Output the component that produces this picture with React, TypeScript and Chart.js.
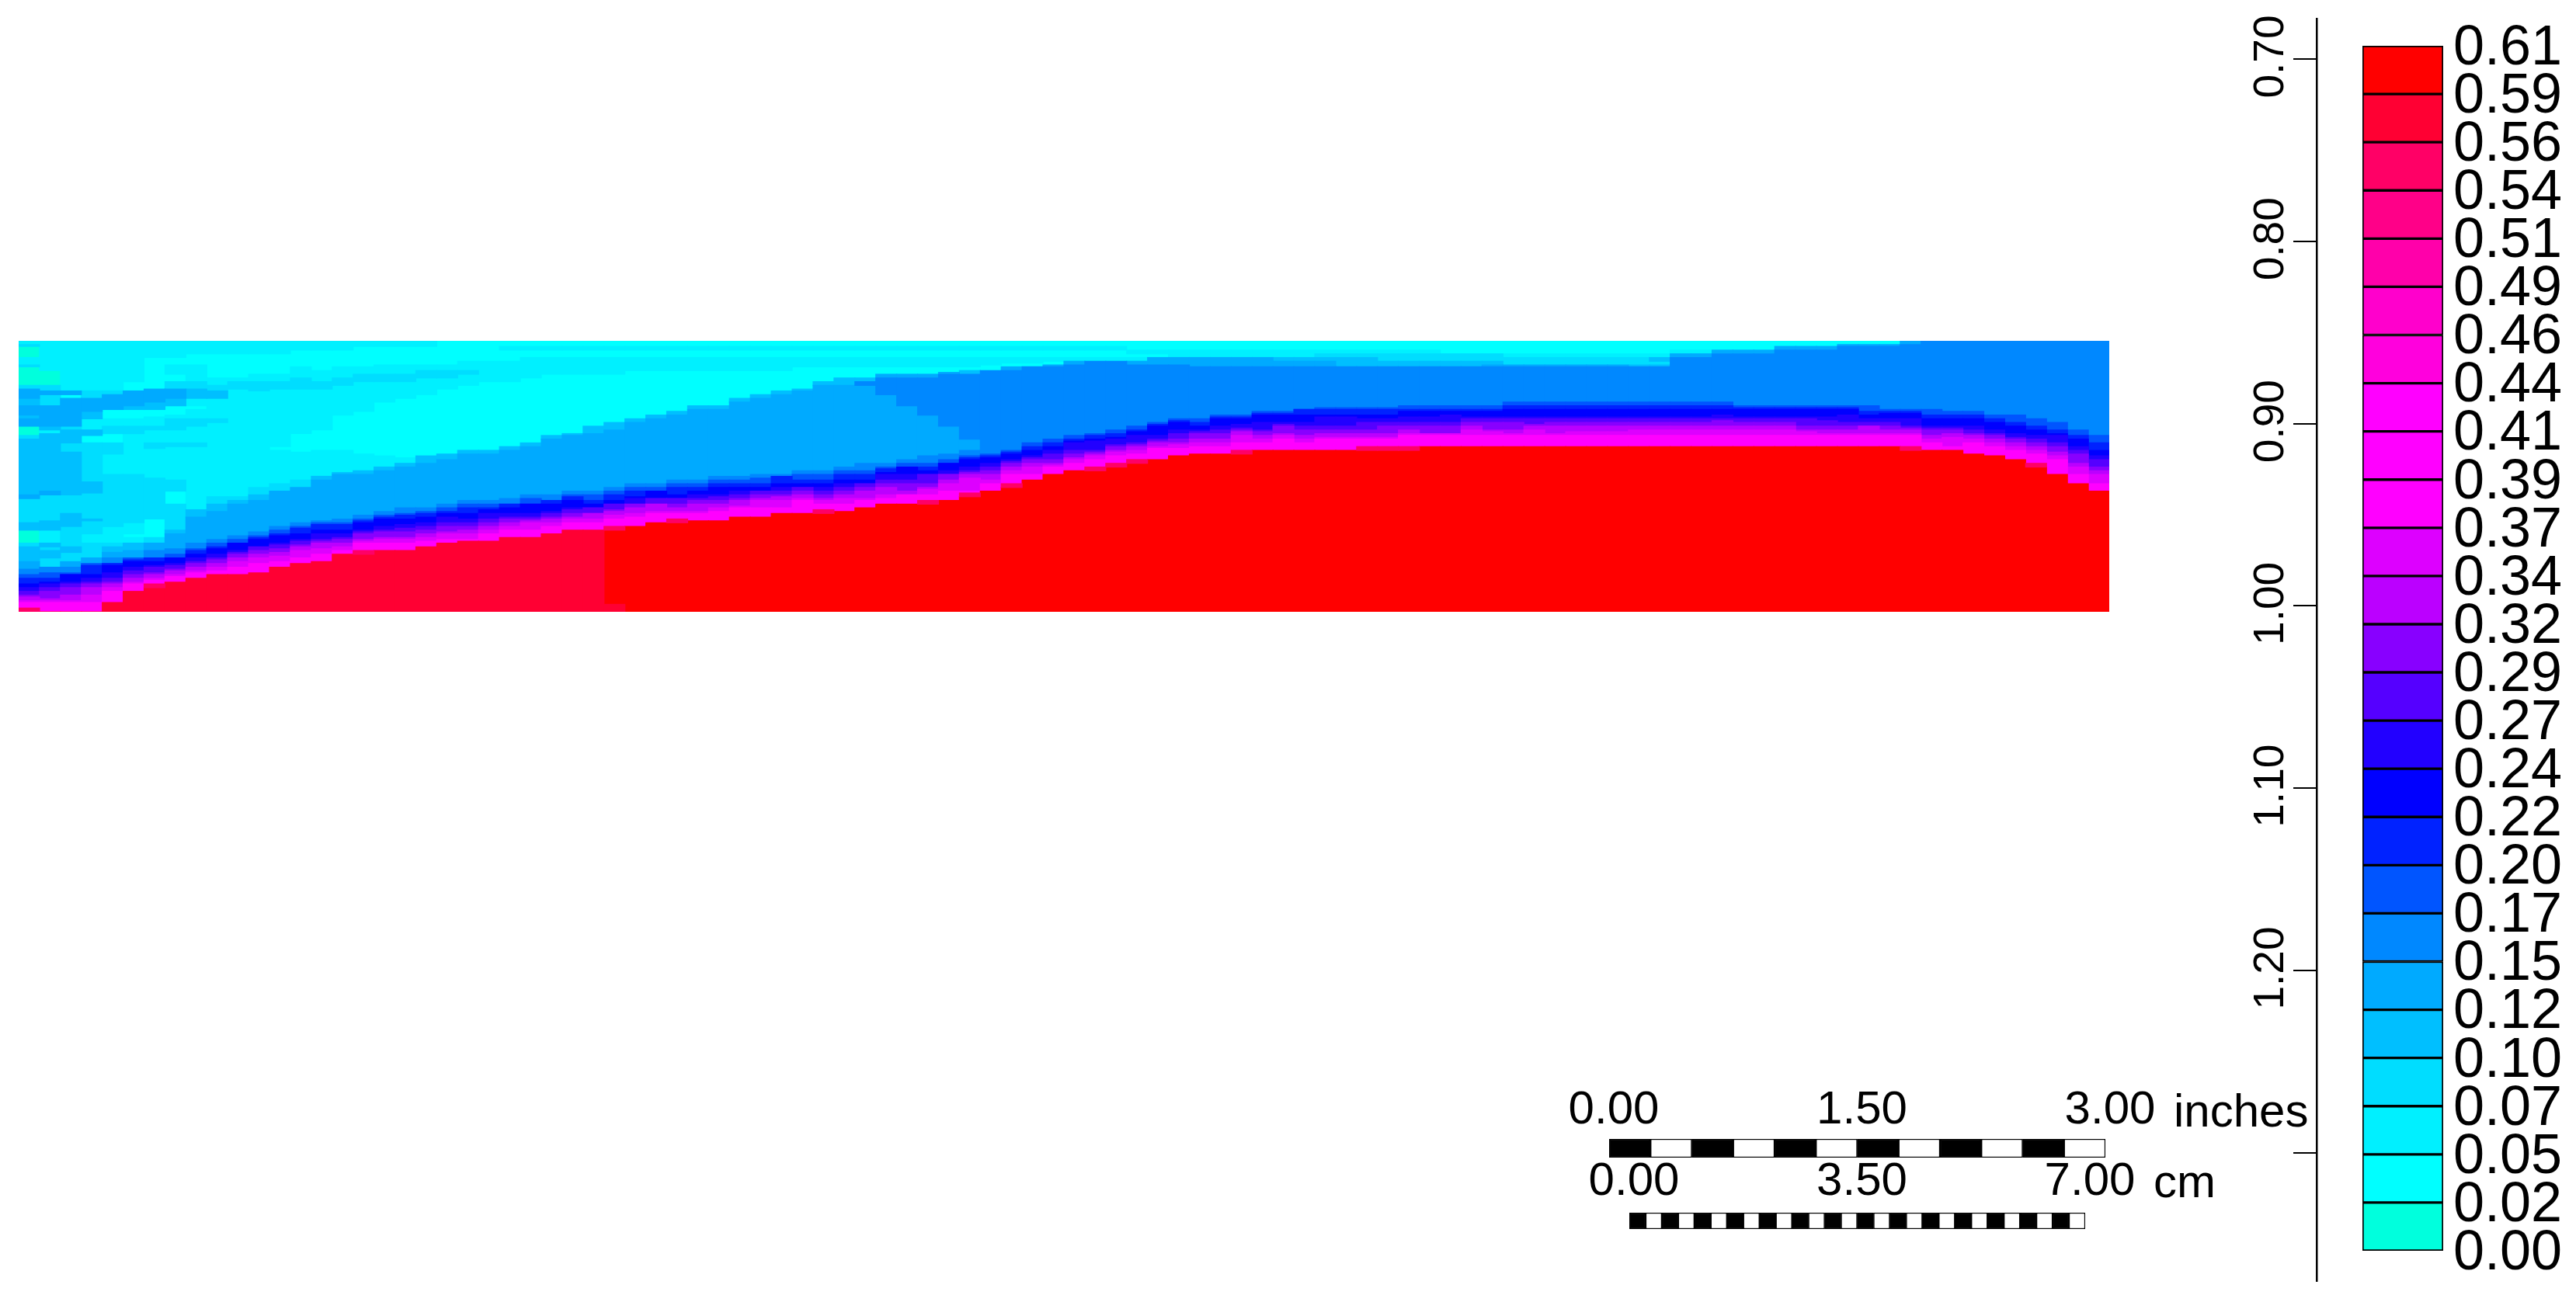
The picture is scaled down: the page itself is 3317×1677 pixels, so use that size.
import React, { useEffect, useRef } from "react";
import { Chart, registerables } from "chart.js";

Chart.register(...registerables);
Chart.defaults.font.family = '"Liberation Sans", Arial, sans-serif';
Chart.defaults.color = "#000";

// ---------- heat map data: one entry per grid column ----------
const rowCount = 146;
const columnLabels = Array.from({ length: 100 }, (_, i) => String(i));

const upperColors: Record<string, string> = {
  g: "#00ffdd", c: "#00ffff", f: "#00f0ff", d: "#00ddff", b: "#00bfff", a: "#00aaff", h: "#0088ff",
};

// "start+colour" runs, reading each column downward from the top of the grid
const upperRuns = [
  "0f 2d 3g 9f 13d 14g 24d 26a 31b 35a 40b 42a 46g 51d 53b 83a 85d 98b 102g 109d 111b 119a 123h",
  "0f 16g 24d 27a 29d 35a 46b 48f 50b 81a 83d 97b 102f 109b 111d 113b 117d 122h",
  "0f 27a 29c 31a 46d 48b 55d 60b 83d 93b 100d 111b 114d 119a 122h",
  "0f 27d 31a 38b 42f 48b 51c 55d 76b 82d 96b 97d 104f 109d 117a",
  "0f 27d 29a 37c 42f 46d 50c 55d 61f 72d 100f 109d 111b 114a 117h",
  "0f 22c 27a 35b 37c 42f 46d 50f 72d 98f 104c 106f 109b 113a 117h",
  "0f 9c 26a 33b 37c 41f 46d 48f 55d 58f 74d 96c 106d 109a 113h",
  "0f 9c 13f 18c 22d 26a 31b 35c 40f 42d 48f 55d 57f 75d 81c 88d 102b 104a 112h",
  "0f 7c 13f 22d 26b 31f 35c 37f 42d 46f 55d 57f 91b 95a 109h",
  "0f 7c 20f 24d 27b 31f 42d 44f 84d 88b 92a 107h",
  "0f 7c 20f 22d 26f 84d 86b 88a 105h",
  "0f 7c 18f 22d 27f 79d 83b 86a 103h",
  "0f 7c 18f 22d 26f 57c 59f 77d 81a 100h",
  "0f 5c 14f 20d 26f 50c 60f 75d 79a 98h",
  "0f 5c 16f 22d 26f 48c 59f 73b 75a 97h",
  "0f 5c 14f 20d 24f 40c 59f 71b 72a 96h",
  "0f 3c 14f 18d 22f 38c 61f 70b 72a 94h",
  "0f 3c 13f 18d 22f 33c 62f 68b 70a 92h",
  "0f 3c 13f 18d 22f 31c 63f 66b 68a 90h",
  "0f 3c 13f 16d 20f 29c 62b 66a 90h",
  "0c 13f 16d 20f 26c 61b 64a 88h",
  "0c 11f 16d 18f 24c 59b 61a 86h",
  "0c 11f 22c 59b 61a 86h",
  "0c 3f 5c 11f 22c 57b 59a 85h",
  "0c 3f 5c 9f 20c 55b 57a 83h",
  "0c 3f 5c 9f 18c 51b 53a 83h",
  "0c 3f 5c 9f 18c 50b 51a 81h",
  "0c 3f 5c 9f 18c 46b 50a 81h",
  "0c 3f 5c 9f 18c 44b 48a 79h",
  "0c 3f 5c 9f 16c 42b 44a 77h",
  "0c 3f 5c 9f 16c 40b 42a 77h",
  "0c 3f 5c 9f 16c 38b 40a 75h",
  "0c 3f 5c 9f 16c 35b 37a 75h",
  "0c 3f 5c 9f 16c 35b 37a 73h",
  "0c 3f 5c 9f 16c 31b 33a 73h",
  "0c 3f 5c 9f 16c 29b 31a 72h",
  "0c 3f 5c 9f 16c 27b 29a 72h",
  "0c 3f 5c 9f 14c 26b 27a 70h",
  "0c 3f 5c 9f 14c 22b 24a 70h",
  "0c 3f 5c 9f 14c 20b 24a 68h",
  "0c 3f 5c 9f 14c 20b 22h 24a 66h",
  "0c 3f 5c 9f 14c 18a 20h 29a 66h",
  "0c 3f 5c 9f 14c 18a 20h 35a 64h",
  "0c 3f 5c 9f 14c 18a 20h 40a 62h",
  "0c 3f 5c 9f 14c 17a 18h 46a 61h",
  "0c 3f 5c 9f 14c 16b 18h 53a 59h",
  "0c 3f 5c 9f 13c 16h",
  "0c 3f 5c 9f 12c 14a 16h",
  "0c 3f 5c 9f 12c 14h",
  "0c 3f 5c 9f 11c 13a 14h",
  "0c 3f 5c 9f 11a 13h",
  "0c 3f 5c 9f 11h",
  "0c 3f 5c 9f 11h",
  "0c 5f 7c 9f 11a 13h",
  "0c 5f 7c 9a 13h",
  "0c 5f 9a 13h",
  "0c 5f 9a 14h",
  "0c 5f 9a 14h",
  "0c 5f 9a 14h",
  "0c 5f 9a 14h",
  "0c 5f 9b 11a 14h",
  "0c 5f 9b 11a 14h",
  "0c 5f 7d 9b 11a 14h",
  "0c 5f 7d 9b 14h",
  "0c 5f 7d 9b 14h",
  "0c 5f 7d 11b 14h",
  "0c 5f 7d 11b 14h",
  "0c 5f 7d 11b 14h",
  "0c 7d 11b 14h",
  "0c 7d 11b 14h",
  "0c 7d 11b 13a 14h",
  "0c 7f 9d 13a 14h",
  "0c 7f 9d 13a 14h",
  "0c 7f 9d 13a 14h",
  "0c 7f 9d 13a 14h",
  "0c 7f 9d 13a 14h",
  "0c 7f 9d 13a 14h",
  "0c 7f 9d 13b 14h",
  "0c 7f 9b 11d 13b 14h",
  "0c 5f 7a 9h",
  "0c 5f 7a 9h",
  "0c 5a 7h",
  "0c 5a 7h",
  "0c 5a 7h",
  "0c 3a 5h",
  "0c 3a 5h",
  "0c 3a 5h",
  "0c 2a 3h",
  "0c 2a 3h",
  "0c 2a 3h",
  "0a 2h",
  "0h", "0h", "0h", "0h", "0h", "0h", "0h", "0h", "0h",
];

const bandColors = ["#0055ff", "#0022ff", "#0000ff", "#2200ff", "#5500ff", "#8800ff", "#bb00ff", "#dd00ff", "#ff00ff"];

// per column: first row of each colour of the front, the last entry is the first row of the red zone
const bandTops = [
  [126,128,131,133,135,137,138,140,141,146],
  [125,128,130,131,133,135,139,140,141,146],
  [125,126,126,130,131,133,137,140,141,146],
  [120,121,126,128,130,131,133,137,141,146],
  [120,120,121,125,128,130,131,133,135,141],
  [117,118,119,122,124,126,128,130,131,135],
  [117,117,119,121,122,125,126,128,129,133],
  [115,117,117,120,121,123,124,126,127,130],
  [112,113,115,117,119,120,122,124,125,128],
  [109,111,112,115,117,118,120,122,124,126],
  [107,109,109,113,114,115,117,119,122,126],
  [105,106,107,111,111,113,115,117,120,125],
  [102,104,105,109,110,112,114,116,119,122],
  [100,101,104,107,108,110,111,113,117,120],
  [98,99,102,104,107,108,109,112,115,119],
  [98,99,102,104,106,107,109,111,113,115],
  [96,97,98,102,103,104,107,108,109,115],
  [94,95,96,100,102,103,106,107,109,113],
  [93,94,96,99,101,103,106,107,109,113],
  [92,93,95,98,100,102,104,106,108,111],
  [90,92,93,95,98,100,103,104,107,109],
  [88,90,93,96,98,100,102,104,107,108],
  [88,90,91,93,96,98,100,102,104,108],
  [88,88,90,93,95,96,98,100,102,106],
  [85,88,88,93,95,96,97,98,102,106],
  [86,86,88,92,93,95,96,98,100,104],
  [83,84,86,90,91,93,95,96,98,102],
  [83,86,88,90,90,93,93,96,98,102],
  [81,83,86,88,88,91,92,94,96,102],
  [79,81,84,85,88,88,90,93,95,100],
  [79,81,81,85,85,88,88,92,93,98],
  [77,79,83,85,85,88,90,92,93,98],
  [77,79,81,83,85,86,88,92,93,97],
  [75,77,79,83,84,86,88,90,92,97],
  [75,77,79,81,83,85,86,89,90,95],
  [74,77,79,81,81,83,85,86,90,95],
  [73,73,77,79,81,83,84,86,90,93],
  [72,75,77,79,79,81,83,85,86,93],
  [72,75,77,79,81,83,85,86,88,93],
  [70,72,75,77,79,81,83,85,88,92],
  [70,72,75,77,77,79,81,85,86,90],
  [68,69,71,72,75,77,79,83,85,88],
  [66,68,68,72,75,77,81,83,83,88],
  [66,68,70,72,72,77,79,80,83,88],
  [64,66,66,70,72,72,75,77,81,86],
  [62,63,64,68,70,71,72,74,81,84],
  [61,62,63,66,68,70,72,75,77,81],
  [59,60,61,64,65,66,68,70,72,79],
  [55,57,59,62,63,64,66,68,72,75],
  [53,55,57,59,61,64,66,67,68,72],
  [51,53,54,55,59,61,63,64,66,70],
  [50,51,53,54,59,60,61,62,64,70],
  [48,50,52,53,56,57,59,60,62,68],
  [46,48,49,51,55,56,57,59,61,66],
  [44,45,46,51,53,54,55,57,58,64],
  [42,43,44,48,50,53,55,56,58,62],
  [42,44,46,48,49,50,53,55,57,61],
  [40,41,42,46,48,50,53,55,57,61],
  [40,41,42,45,47,48,49,51,55,61],
  [38,39,40,44,48,49,51,53,55,59],
  [38,39,40,44,45,46,50,51,53,59],
  [37,37,40,44,46,48,51,53,55,59],
  [36,37,40,41,46,48,50,52,53,59],
  [36,37,40,41,46,48,50,52,53,59],
  [36,37,40,42,44,48,50,52,53,59],
  [36,37,40,42,44,46,50,52,53,59],
  [35,37,38,41,44,46,48,50,51,59],
  [35,37,38,41,44,46,50,50,51,57],
  [35,37,38,40,44,46,50,50,51,57],
  [35,37,38,41,42,44,46,48,51,57],
  [35,37,38,41,42,44,48,49,51,57],
  [33,35,37,41,42,44,48,50,51,57],
  [33,35,37,41,42,45,46,48,51,57],
  [33,35,37,41,42,44,46,50,51,57],
  [33,35,37,41,42,44,46,49,51,57],
  [33,35,37,41,42,44,46,49,51,57],
  [33,35,37,41,42,44,46,49,51,57],
  [33,35,37,41,42,44,46,48,51,57],
  [33,35,37,41,42,44,46,48,51,57],
  [33,35,37,41,42,44,46,48,51,57],
  [33,35,37,41,42,44,46,48,51,57],
  [33,35,37,40,42,43,46,48,51,57],
  [35,36,37,41,42,44,46,48,51,57],
  [35,36,37,41,42,44,46,48,51,57],
  [35,36,37,41,42,44,46,48,51,57],
  [35,36,37,41,42,46,48,49,51,57],
  [35,36,37,41,43,46,48,50,51,57],
  [35,36,37,40,44,46,48,50,51,57],
  [35,38,40,42,44,46,46,50,51,57],
  [37,38,39,42,44,46,48,50,51,57],
  [37,38,39,42,46,47,48,50,51,59],
  [37,40,42,46,47,48,51,53,55,59],
  [38,40,42,46,47,48,50,52,57,59],
  [38,40,42,46,48,50,51,53,55,61],
  [40,42,44,48,50,51,53,55,57,62],
  [40,44,46,50,52,53,55,57,59,64],
  [42,46,48,51,53,55,57,59,61,68],
  [44,48,50,51,55,57,60,62,64,72],
  [48,51,53,57,59,61,66,68,72,77],
  [51,55,59,62,64,68,70,72,77,81],
];

const lastSlightlyPaleRedColumn = 27;
const paleRedPatch = [[28, 142, 146]];
// [column, first row, end row] of the thin pink cells on top of the red zone
const pinkCells = [
  [0,144,146],[6,131,133],[16,113,115],[28,100,102],[31,96,98],[38,91,93],[43,86,88],[45,82,84],[47,77,79],
  [51,68,70],[52,66,68],[53,64,66],[58,59,61],[64,57,59],[65,57,59],[66,57,59],[90,57,59],[96,66,68],
];

// ---------- depth axis ----------
const depthMin = 0.67785;
const depthMax = 1.37036;
const depthTicks = [0.7, 0.8, 0.9, 1.0, 1.1, 1.2, 1.3];
const depthLabels = ["0.70", "0.80", "0.90", "1.00", "1.10", "1.20", ""];

// ---------- colour bar, listed from the top ----------
const legendLabels = ["0.61","0.59","0.56","0.54","0.51","0.49","0.46","0.44","0.41","0.39","0.37","0.34","0.32","0.29","0.27","0.24","0.22","0.20","0.17","0.15","0.12","0.10","0.07","0.05","0.02","0.00"];
const legendColors = ["#ff0000","#ff0033","#ff0066","#ff0088","#ff00aa","#ff00cc","#ff00dd","#ff00ff","#ff00ff","#ff00ff","#dd00ff","#bb00ff","#8800ff","#5500ff","#2200ff","#0000ff","#0022ff","#0055ff","#0088ff","#00aaff","#00bfff","#00ddff","#00f0ff","#00ffff","#00ffdd"];

// ---------- scale bars ----------
const inchEdges = [0,0.25,0.5,0.75,1,1.25,1.5,1.75,2,2.25,2.5,2.75,3];
const inchTicks = [0, 1.5, 3];
const inchLabels = ["0.00", "1.50", "3.00"];
const cmEdges = [0,0.25,0.5,0.75,1,1.25,1.5,1.75,2,2.25,2.5,2.75,3,3.25,3.5,3.75,4,4.25,4.5,4.75,5,5.25,5.5,5.75,6,6.25,6.5,6.75,7];
const cmTicks = [0, 3.5, 7];
const cmLabels = ["0.00", "3.50", "7.00"];

function heatmapDatasets() {
  const paint: any[] = [];
  const byLetter: Record<string, any[]> = {};
  upperRuns.forEach((line, col) => {
    const runs = line.split(" ");
    runs.forEach((tok, i) => {
      const top = parseInt(tok, 10);
      const bot = i + 1 < runs.length ? parseInt(runs[i + 1], 10) : rowCount;
      const letter = tok.slice(-1);
      (byLetter[letter] = byLetter[letter] || []).push({ x: String(col), y: [top, bot] });
    });
  });
  Object.keys(upperColors).forEach((l) => paint.push({ label: l, backgroundColor: upperColors[l], data: byLetter[l] || [] }));
  bandColors.forEach((color, b) => {
    paint.push({ label: color, backgroundColor: color, data: bandTops.map((t, col) => ({ x: String(col), y: [t[b], rowCount] })) });
  });
  const red = bandTops.map((t, col) => ({ col, top: t[t.length - 1] }));
  paint.push({ label: "red", backgroundColor: "#ff0000", data: red.filter((r) => r.col > lastSlightlyPaleRedColumn).map((r) => ({ x: String(r.col), y: [r.top, rowCount] })) });
  paint.push({
    label: "pale red", backgroundColor: "#ff0033",
    data: red.filter((r) => r.col <= lastSlightlyPaleRedColumn).map((r) => ({ x: String(r.col), y: [r.top, rowCount] }))
      .concat(paleRedPatch.map((p) => ({ x: String(p[0]), y: [p[1], p[2]] }))),
  });
  paint.push({ label: "pink", backgroundColor: "#ff0066", data: pinkCells.map((p) => ({ x: String(p[0]), y: [p[1], p[2]] })) });
  return paint.reverse();
}

const base = {
  animation: false, responsive: false, maintainAspectRatio: false, devicePixelRatio: 1, events: [] as string[],
  plugins: { legend: { display: false }, tooltip: { enabled: false } },
};

const heatmapConfig = () => ({
  type: "bar",
  data: { labels: columnLabels, datasets: heatmapDatasets() },
  options: {
    ...base,
    layout: { padding: 0 },
    datasets: { bar: { grouped: false, barPercentage: 1, categoryPercentage: 1, borderWidth: 0, inflateAmount: 0.6 } },
    scales: {
      x: { display: false, ticks: { autoSkip: false } },
      y: { display: false, min: 0, max: rowCount, reverse: true },
    },
  },
});

const depthConfig = () => ({
  type: "bar",
  data: { labels: [""], datasets: [{ data: [] as number[] }] },
  options: {
    ...base,
    layout: { padding: { top: 24, bottom: 27, left: 0, right: 0 } },
    scales: {
      x: { display: false },
      y: {
        position: "left", reverse: true, min: depthMin, max: depthMax,
        afterBuildTicks: (s: any) => { s.ticks = depthTicks.map((value) => ({ value })); },
        afterFit: (s: any) => { s.width = 123; },
        border: { display: true, color: "#000", width: 2.5 },
        grid: { display: true, drawOnChartArea: false, drawTicks: true, tickLength: 30, color: "#000", lineWidth: 2 },
        ticks: {
          autoSkip: false, minRotation: 90, maxRotation: 90, crossAlign: "center", padding: -25, labelOffset: -3,
          font: { size: 55 },
          color: "#000",
          callback: (v: number) => depthLabels[depthTicks.findIndex((t) => Math.abs(t - v) < 1e-6)] ?? "",
        },
      },
    },
  },
});

const legendConfig = () => ({
  type: "bar",
  data: {
    labels: ["0"],
    datasets: legendColors.map((color, i) => ({
      label: legendLabels[i], backgroundColor: color, borderColor: "#000", borderWidth: 2, borderSkipped: false,
      data: [{ x: "0", y: [legendColors.length - i - 1, legendColors.length - i] }],
    })),
  },
  options: {
    ...base,
    layout: { padding: { left: 42, top: 59, bottom: 66, right: 0 } },
    datasets: { bar: { grouped: false, barPercentage: 1, categoryPercentage: 1 } },
    scales: {
      x: { display: false },
      y: {
        position: "right", min: 0, max: legendColors.length,
        afterBuildTicks: (s: any) => { s.ticks = legendLabels.map((_, i) => ({ value: legendLabels.length - 1 - i })); },
        afterFit: (s: any) => { s.width = 171; },
        border: { display: false },
        grid: { display: false, drawTicks: false },
        ticks: {
          autoSkip: false, padding: 13, labelOffset: 4, color: "#000", font: { size: 72 },
          callback: (v: number) => legendLabels[legendLabels.length - 1 - Math.round(v)],
        },
      },
    },
  },
});

function scaleBarConfig(edges: number[], ticks: number[], labels: string[], unit: string, unitOffset: number, leftPad: number, rightPad: number, axisHeight: number, baselineGap: number, tickPad: number) {
  const cells = edges.slice(0, -1).map((start, i) => ({
    label: String(start), backgroundColor: i % 2 === 0 ? "#000" : "#fff", borderColor: "#000", borderWidth: 1.5, borderSkipped: false,
    data: [{ x: [start, edges[i + 1]], y: "0" }],
  }));
  return {
    type: "bar",
    data: { labels: ["0"], datasets: cells },
    plugins: [{
      id: "unit",
      afterDraw(chart: any) {
        const ctx = chart.ctx;
        ctx.save();
        ctx.font = '60px "Liberation Sans", Arial, sans-serif';
        ctx.fillStyle = "#000";
        ctx.textBaseline = "alphabetic";
        ctx.fillText(unit, chart.scales.x.getPixelForValue(edges[edges.length - 1]) + unitOffset, chart.chartArea.top - baselineGap);
        ctx.restore();
      },
    }],
    options: {
      ...base,
      indexAxis: "y",
      layout: { padding: { left: leftPad, right: rightPad, top: 0, bottom: 1 } },
      datasets: { bar: { grouped: false, barPercentage: 1, categoryPercentage: 1 } },
      scales: {
        y: { display: false },
        x: {
          position: "top", min: edges[0], max: edges[edges.length - 1],
          afterBuildTicks: (s: any) => { s.ticks = ticks.map((value) => ({ value })); },
          afterFit: (s: any) => { s.height = axisHeight; },
          border: { display: false },
          grid: { display: false, drawTicks: false },
          ticks: {
            autoSkip: false, maxRotation: 0, minRotation: 0, padding: tickPad, labelOffset: 6, color: "#000", font: { size: 60 },
            callback: (v: number) => labels[ticks.indexOf(v)],
          },
        },
      },
    },
  };
}

type Box = { left: number; top: number; width: number; height: number };

function ChartCanvas({ box, config }: { box: Box; config: () => any }) {
  const ref = useRef<HTMLCanvasElement | null>(null);
  useEffect(() => {
    if (!ref.current) return;
    const chart = new Chart(ref.current, config());
    return () => chart.destroy();
  }, []);
  return (
    <canvas
      ref={ref}
      width={box.width}
      height={box.height}
      style={{ position: "absolute", left: box.left, top: box.top, width: box.width, height: box.height, display: "block" }}
    />
  );
}

export default function App() {
  return (
    <div style={{ position: "absolute", left: 0, top: 0, width: 3317, height: 1677, background: "#fff", overflow: "hidden" }}>
      <ChartCanvas box={{ left: 24, top: 439, width: 2692, height: 349 }} config={heatmapConfig} />
      <ChartCanvas box={{ left: 2860, top: 0, width: 130, height: 1677 }} config={depthConfig} />
      <ChartCanvas box={{ left: 3000, top: 0, width: 317, height: 1677 }} config={legendConfig} />
      <ChartCanvas box={{ left: 1990, top: 1400, width: 990, height: 92 }}
        config={() => scaleBarConfig(inchEdges, inchTicks, inchLabels, "inches", 88, 82, 269, 67, 16, 1)} />
      <ChartCanvas box={{ left: 1990, top: 1495, width: 990, height: 89 }}
        config={() => scaleBarConfig(cmEdges, cmTicks, cmLabels, "cm", 88, 108, 295, 67, 20, 4)} />
    </div>
  );
}
